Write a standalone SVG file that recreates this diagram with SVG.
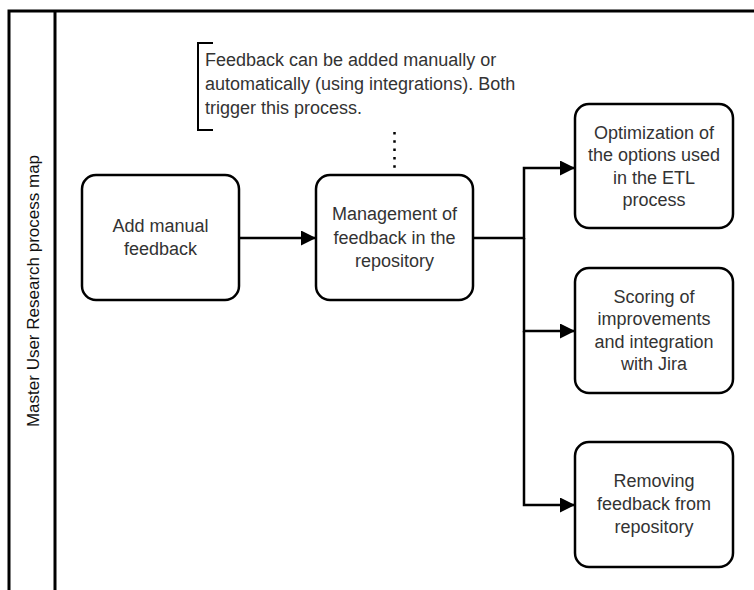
<svg xmlns="http://www.w3.org/2000/svg" width="754" height="590" viewBox="0 0 754 590">
  <style>
    .lane { fill: none; stroke: #000; stroke-width: 3; }
    .node rect { fill: #fff; stroke: #000; stroke-width: 2.5; }
    .node text, .note text { font-family: "Liberation Sans", Arial, sans-serif; font-size: 18px; fill: #333; }
    .node text { text-anchor: middle; dominant-baseline: central; }
    .lane-title { font-family: "Liberation Sans", Arial, sans-serif; font-size: 17px; fill: #111; text-anchor: middle; dominant-baseline: central; }
    .edge { fill: none; stroke: #000; stroke-width: 2.5; }
    .dotted { fill: none; stroke: #000; stroke-width: 2.5; stroke-dasharray: 2.5 5.8; }
    .bracket { fill: none; stroke: #000; stroke-width: 2; }
  </style>
  <defs>
    <marker id="arrow" viewBox="0 0 15 15" refX="14" refY="7.5" markerWidth="15" markerHeight="15" markerUnits="userSpaceOnUse" orient="auto">
      <path d="M0,0 L15,7.5 L0,15 Z" fill="#000"/>
    </marker>
  </defs>

  <rect width="754" height="590" fill="#fff"/>

  <!-- swimlane -->
  <g id="lane">
    <path class="lane" d="M9,590 V11 H754 M55,11 V590"/>
    <text class="lane-title" transform="translate(33,291) rotate(-90)">Master User Research process map</text>
  </g>

  <!-- annotation -->
  <g id="note" class="note">
    <path class="bracket" d="M213,43 H198 V130 H213"/>
    <text x="205" y="66">Feedback can be added manually or</text>
    <text x="205" y="90">automatically (using integrations). Both</text>
    <text x="205" y="114">trigger this process.</text>
  </g>

  <!-- connectors -->
  <g id="connectors">
    <path class="dotted" d="M394.5,132 V172"/>
    <path class="edge" d="M239,238 H315" marker-end="url(#arrow)"/>
    <path class="edge" d="M473,238 H524 V168 H574" marker-end="url(#arrow)"/>
    <path class="edge" d="M524,238 V331 H574" marker-end="url(#arrow)"/>
    <path class="edge" d="M524,331 V505 H574" marker-end="url(#arrow)"/>
  </g>

  <!-- nodes -->
  <g id="add-manual-feedback" class="node">
    <rect x="82" y="175" width="157" height="125" rx="14"/>
    <text x="160.5" y="225.5">Add manual</text>
    <text x="160.5" y="248.5">feedback</text>
  </g>

  <g id="management" class="node">
    <rect x="316" y="175" width="157" height="125" rx="14"/>
    <text x="394.5" y="214">Management of</text>
    <text x="394.5" y="237.5">feedback in the</text>
    <text x="394.5" y="261">repository</text>
  </g>

  <g id="optimization" class="node">
    <rect x="575" y="104" width="158" height="124" rx="14"/>
    <text x="654" y="132.5">Optimization of</text>
    <text x="654" y="155">the options used</text>
    <text x="654" y="177.5">in the ETL</text>
    <text x="654" y="200">process</text>
  </g>

  <g id="scoring" class="node">
    <rect x="575" y="268" width="158" height="125" rx="14"/>
    <text x="654" y="296.5">Scoring of</text>
    <text x="654" y="319">improvements</text>
    <text x="654" y="341.5">and integration</text>
    <text x="654" y="364">with Jira</text>
  </g>

  <g id="removing" class="node">
    <rect x="575" y="442" width="158" height="125" rx="14"/>
    <text x="654" y="481">Removing</text>
    <text x="654" y="504">feedback from</text>
    <text x="654" y="527">repository</text>
  </g>
</svg>
